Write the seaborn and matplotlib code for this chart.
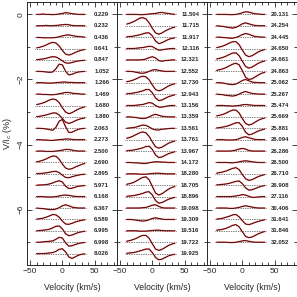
import numpy as np
import pandas as pd
import matplotlib
matplotlib.use('Agg')
import matplotlib.pyplot as plt
import seaborn as sns
from matplotlib.ticker import MultipleLocator

# velocity grid (km/s) where profile values were read
velocity = [-40, -35, -30, -25, -20, -15, -10, -5, 0, 5, 10, 15, 20, 25, 30, 35]

# rotation phases / labels of each panel
labels_1 = ['0.229', '0.232', '0.436', '0.641', '0.847', '1.052', '1.266', '1.469', '1.680', '1.880', '2.063',
            '2.273', '2.500', '2.690', '2.895', '5.971', '6.168', '6.367', '6.589', '6.995', '6.998', '8.026']
labels_2 = ['11.504', '11.715', '11.917', '12.116', '12.321', '12.552', '12.730', '12.943', '13.156', '13.359', '13.561',
            '13.761', '13.967', '14.172', '18.280', '18.705', '18.896', '19.098', '19.309', '19.516', '19.722', '19.925']
labels_3 = ['20.131', '24.254', '24.445', '24.650', '24.661', '24.863', '25.062', '25.267', '25.474', '25.669', '25.881',
            '26.094', '26.286', '26.500', '26.710', '26.908', '27.116', '30.406', '31.641', '31.846', '32.052']

# Stokes V profiles, units of 0.01 %
profiles_1 = [
    [0, 0, 1, 0, 0, -1, 0, 1, 3, 5, 4, 2, 1, 0, 0, 0],
    [0, 0, 0, 1, 0, 0, 1, 2, 3, 4, 3, 1, 0, 0, 0, 0],
    [-1, -1, -2, -2, -2, -2, -1, 1, 4, 6, 7, 5, 3, 2, 1, 0],
    [2, 4, 7, 11, 16, 19, 17, 8, -6, -17, -20, -17, -12, -8, -5, -3],
    [1, 2, 3, 5, 8, 10, 9, 4, -3, -9, -10, -8, -5, -3, -2, -1],
    [0, 0, -1, -2, -3, -2, 8, 22, 20, 0, -11, -9, -5, -2, -1, 0],
    [0, 0, 0, -1, -1, -1, 0, 1, 2, 2, 1, 1, 0, 0, 0, 0],
    [0, 0, -1, -1, -2, -2, -1, 1, 3, 5, 5, 3, 2, 1, 0, 0],
    [3, 5, 8, 12, 17, 20, 18, 9, -7, -20, -25, -22, -16, -11, -7, -4],
    [1, 2, 4, 6, 9, 12, 12, 6, -5, -16, -20, -17, -12, -8, -5, -3],
    [0, 0, -1, -2, -4, -6, 3, 22, 27, 5, -13, -12, -7, -3, -1, 0],
    [0, 0, -1, -1, -2, -2, -1, 0, 1, 2, 2, 1, 0, 0, 0, 0],
    [0, 0, 0, -1, -1, -1, 0, 1, 3, 5, 5, 3, 1, 0, 0, 0],
    [2, 4, 7, 11, 16, 20, 19, 10, -5, -17, -21, -19, -14, -10, -6, -3],
    [1, 1, 2, 3, 5, 7, 8, 4, -4, -11, -12, -9, -6, -4, -2, -1],
    [0, 1, 1, 2, 4, 7, 11, 14, 10, -3, -10, -9, -6, -3, -2, -1],
    [0, 0, 0, -1, -1, -1, 0, 2, 4, 5, 4, 2, 1, 0, 0, 0],
    [0, -1, -2, -3, -5, -5, -3, 1, 7, 10, 7, 3, 1, 0, 0, 0],
    [1, 2, 4, 7, 11, 15, 14, 7, -5, -14, -15, -12, -8, -5, -3, -1],
    [0, 1, 2, 3, 5, 9, 14, 15, 6, -9, -15, -13, -9, -5, -3, -1],
    [0, 0, 1, 2, 3, 4, 9, 15, 13, -2, -12, -11, -7, -4, -2, -1],
    [0, 0, 0, 1, 2, 3, 7, 13, 15, 5, -10, -15, -10, -5, -2, -1],
]
profiles_2 = [
    [0, 0, 0, 0, -1, -1, 0, 1, 2, 3, 5, 6, 4, 3, 1, 0],
    [5, 8, 12, 17, 23, 25, 21, 9, -8, -22, -26, -22, -16, -11, -7, -4],
    [1, 2, 3, 5, 7, 10, 13, 13, 4, -12, -20, -17, -12, -7, -4, -2],
    [0, 0, 0, 1, 2, 3, 5, 7, 6, 0, -5, -4, -2, -1, 0, 0],
    [0, 0, 0, 0, 0, 1, 3, 7, 10, 6, -2, -4, -2, -1, 0, 0],
    [0, 0, -1, -3, -5, -6, -4, 0, 4, 5, 3, 1, 0, 0, 0, 0],
    [3, 5, 8, 12, 17, 20, 18, 9, -7, -21, -25, -22, -16, -10, -6, -3],
    [1, 2, 3, 5, 7, 10, 14, 14, 4, -12, -20, -18, -13, -8, -5, -2],
    [0, 0, 0, 1, 2, 3, 6, 9, 7, 0, -5, -5, -3, -1, 0, 0],
    [0, 0, -1, -2, -4, -5, -4, 0, 5, 8, 5, 2, 1, 0, 0, 0],
    [0, 1, 2, 4, 7, 10, 9, 4, -2, -5, -5, -3, -2, -1, 0, 0],
    [4, 7, 11, 16, 21, 24, 21, 10, -7, -22, -26, -23, -17, -11, -7, -4],
    [1, 2, 3, 5, 7, 10, 14, 15, 5, -12, -20, -18, -13, -8, -5, -2],
    [0, 0, -1, -1, -2, -3, -3, -1, 1, 2, 2, 1, 1, 0, 0, 0],
    [0, 0, 0, 0, -1, -1, -1, 0, 1, 2, 2, 1, 0, 0, 0, 0],
    [3, 5, 8, 13, 19, 24, 26, 17, -4, -24, -30, -26, -19, -12, -7, -4],
    [1, 2, 3, 5, 7, 10, 14, 15, 5, -12, -20, -18, -13, -8, -5, -2],
    [0, 0, 0, 0, 0, 1, 2, 5, 9, 10, 5, 1, 0, 0, 0, 0],
    [0, 0, -1, -2, -4, -5, -4, -1, 3, 5, 3, 1, 0, 0, 0, 0],
    [0, 0, 0, 0, -1, -1, -1, 0, 1, 2, 2, 1, 0, 0, 0, 0],
    [3, 5, 8, 12, 17, 21, 21, 12, -5, -21, -25, -22, -16, -10, -6, -3],
    [1, 2, 3, 5, 8, 11, 14, 14, 3, -12, -19, -17, -12, -7, -4, -2],
]
profiles_3 = [
    [0, 0, 0, 0, -1, -1, 0, 2, 5, 8, 7, 4, 2, 1, 0, 0],
    [0, -1, -2, -4, -6, -7, -5, 0, 6, 9, 6, 3, 1, 0, 0, 0],
    [0, 0, -1, -2, -3, -3, -1, 3, 8, 11, 9, 5, 2, 1, 0, 0],
    [3, 5, 8, 12, 17, 21, 21, 12, -5, -20, -25, -22, -16, -10, -6, -3],
    [3, 5, 8, 12, 17, 21, 22, 13, -4, -20, -25, -22, -16, -10, -6, -3],
    [3, 5, 8, 12, 17, 22, 25, 20, 2, -18, -25, -23, -17, -11, -6, -3],
    [0, 0, -1, -3, -5, -6, -4, 1, 7, 10, 6, 2, 1, 0, 0, 0],
    [0, -1, -2, -4, -5, -6, -4, 0, 5, 8, 5, 2, 1, 0, 0, 0],
    [0, 0, 0, -1, -1, -2, -1, 0, 2, 3, 2, 1, 0, 0, 0, 0],
    [3, 5, 8, 12, 17, 21, 21, 12, -5, -20, -25, -22, -16, -10, -6, -3],
    [1, 2, 4, 6, 9, 13, 17, 17, 6, -12, -20, -18, -13, -8, -5, -2],
    [0, 0, 0, -1, -1, -1, 0, 3, 7, 9, 6, 3, 1, 0, 0, 0],
    [0, 0, 0, 0, 0, 1, 3, 6, 8, 6, 2, 0, 0, 0, 0, 0],
    [0, 0, 0, 0, -1, -1, 0, 2, 4, 5, 4, 2, 1, 0, 0, 0],
    [2, 4, 6, 9, 13, 17, 19, 13, -2, -15, -20, -18, -13, -8, -5, -2],
    [1, 2, 3, 4, 6, 9, 12, 13, 5, -8, -15, -14, -10, -6, -3, -1],
    [0, 0, 0, 0, 0, 1, 2, 4, 6, 5, 1, -2, -2, -1, 0, 0],
    [0, 0, 0, 0, -1, -1, 0, 2, 5, 7, 5, 3, 1, 0, 0, 0],
    [1, 2, 4, 7, 10, 14, 15, 8, -4, -14, -16, -13, -9, -6, -3, -1],
    [2, 3, 5, 8, 12, 17, 19, 12, -3, -17, -21, -19, -14, -9, -5, -2],
    [0, 0, 0, 0, -1, -1, 0, 2, 4, 5, 3, 1, 0, 0, 0, 0],
]

shift = 0.35  # vertical shift between successive profiles (%)

sns.set_style('ticks')
plt.rcParams['font.family'] = ['Liberation Sans', 'DejaVu Sans']
plt.rcParams['xtick.direction'] = 'in'
plt.rcParams['ytick.direction'] = 'in'

fig = plt.figure(figsize=(2.97, 2.97), dpi=100)
panels = [(labels_1, profiles_1), (labels_2, profiles_2), (labels_3, profiles_3)]
axes = []
for k, (labels, profiles) in enumerate(panels):
    ax = fig.add_axes([27 / 297 + k * 90 / 297, 32 / 297, 90 / 297, 263 / 297])
    axes.append(ax)

    rows = []
    for i, (lab, prof) in enumerate(zip(labels, profiles)):
        for v, p in zip(velocity, prof):
            rows.append({'velocity': v, 'V': -shift * i + p / 100.0, 'phase': lab})
    df = pd.DataFrame(rows)

    # baselines
    for i in range(len(labels)):
        ax.plot([-42, 37], [-shift * i, -shift * i], ls=(0, (1, 1.5)), color='black', lw=0.5)

    # model (red) and observation (black)
    sns.lineplot(data=df, x='velocity', y='V', units='phase', estimator=None,
                 color='#ff5a5a', lw=1.1, ax=ax, legend=False, sort=False)
    sns.lineplot(data=df, x='velocity', y='V', units='phase', estimator=None,
                 color='black', lw=0.5, ax=ax, legend=False, sort=False)

    for i, lab in enumerate(labels):
        ax.text(73, -shift * i, lab, ha='right', va='center', fontsize=4.3, fontweight='bold')

    ax.set_xlim(-55, 85)
    ax.set_ylim(-7.7, 0.38)
    ax.xaxis.set_major_locator(MultipleLocator(50))
    ax.xaxis.set_minor_locator(MultipleLocator(10))
    ax.yaxis.set_major_locator(MultipleLocator(2))
    ax.yaxis.set_minor_locator(MultipleLocator(1))
    ax.tick_params(which='both', top=True, right=True, labelsize=6, width=0.6, pad=2)
    ax.tick_params(which='major', length=3.5)
    ax.tick_params(which='minor', length=2)
    ax.set_xlabel('Velocity (km/s)', fontsize=6.2, labelpad=6)
    ax.set_ylabel('')
    for s in ax.spines.values():
        s.set_linewidth(0.7)
    if k > 0:
        ax.set_yticklabels([])

axes[0].set_ylabel('V/I$_\\mathrm{c}$ (%)', fontsize=6.5, labelpad=2)
for t in axes[0].get_yticklabels():
    t.set_rotation(90)
    t.set_va('center')

fig.savefig('out.png', dpi=100)
